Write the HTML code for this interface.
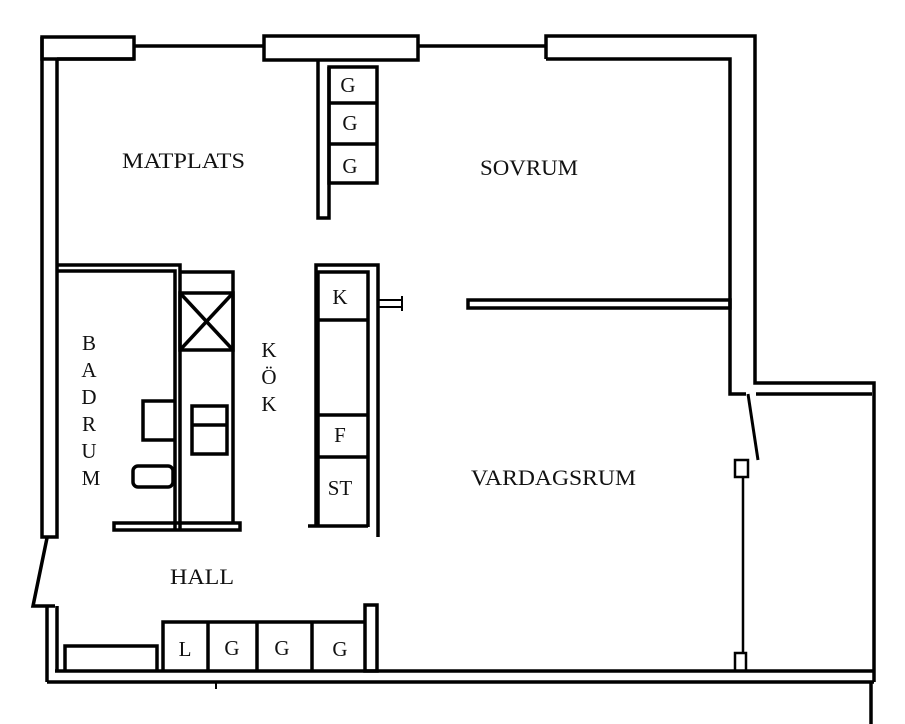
<!DOCTYPE html>
<html><head><meta charset="utf-8"><style>
html,body{margin:0;padding:0;background:#fff;}
svg{display:block}
text{font-family:"Liberation Serif",serif;fill:#111;}
</style></head><body>
<svg width="905" height="724" viewBox="0 0 905 724" xmlns="http://www.w3.org/2000/svg">
<g fill="none" stroke="#000" stroke-width="3.5" stroke-linejoin="miter">
<rect x="42" y="37" width="92" height="22" fill="#fff"/>
<line x1="134" y1="46" x2="264" y2="46"/>
<rect x="264" y="36" width="154" height="24" fill="#fff"/>
<line x1="418" y1="46" x2="546" y2="46"/>
<polyline points="546,59 546,36 755,36 755,383 874,383 874,682"/>
<polyline points="546,59 730,59 730,394 746,394"/>
<line x1="756" y1="394" x2="872" y2="394"/>
<polyline points="42,37 42,537 57,537 57,59"/>
<line x1="134" y1="59" x2="57" y2="59"/>
<polyline points="47,538 33,606 55,606"/>
<polyline points="57,606 57,671"/>
<line x1="47" y1="606" x2="47" y2="682"/>
<line x1="55" y1="671" x2="874" y2="671"/>
<line x1="47" y1="682" x2="874" y2="682"/>
<line x1="216" y1="682" x2="216" y2="689" stroke-width="2"/>
<line x1="871" y1="682" x2="871" y2="724"/>
<line x1="748" y1="394" x2="758" y2="460" stroke-width="3"/>
<rect x="735" y="460" width="13" height="17" stroke-width="2.5"/>
<line x1="743" y1="477" x2="743" y2="653" stroke-width="2.5"/>
<rect x="735" y="653" width="11" height="18" stroke-width="2.5"/>
<rect x="468" y="300" width="262" height="8"/>
<polyline points="318,59 318,218 329,218 329,67"/>
<rect x="329" y="67" width="48" height="116"/>
<line x1="329" y1="103" x2="377" y2="103"/>
<line x1="329" y1="144" x2="377" y2="144"/>
<polyline points="57,265 180,265 180,530"/>
<polyline points="57,271 175,271 175,530"/>
<rect x="114" y="523" width="126" height="7"/>
<polyline points="180,272 233,272 233,523"/>
<rect x="180" y="293" width="53" height="57"/>
<line x1="180" y1="293" x2="233" y2="350"/>
<line x1="233" y1="293" x2="180" y2="350"/>
<rect x="192" y="406" width="35" height="48"/>
<line x1="192" y1="425" x2="227" y2="425"/>
<polyline points="175,401 143,401 143,440 175,440"/>
<rect x="133" y="466" width="40" height="21" rx="5"/>
<polyline points="316,527 316,265 378,265 378,537"/>
<polyline points="318,527 318,272 368,272 368,527"/>
<line x1="308" y1="526" x2="368" y2="526"/>
<line x1="318" y1="320" x2="368" y2="320"/>
<line x1="318" y1="415" x2="368" y2="415"/>
<line x1="318" y1="457" x2="368" y2="457"/>
<g stroke-width="2"><line x1="378" y1="300" x2="402" y2="300"/><line x1="378" y1="307" x2="402" y2="307"/><line x1="402" y1="296" x2="402" y2="311"/></g>
<polyline points="163,671 163,622 365,622"/>
<line x1="208" y1="622" x2="208" y2="671"/>
<line x1="257" y1="622" x2="257" y2="671"/>
<line x1="312" y1="622" x2="312" y2="671"/>
<rect x="365" y="605" width="12" height="66"/>
<polyline points="65,671 65,646 157,646 157,671"/>
</g>
<g font-size="22">
<text x="122" y="168" textLength="123" lengthAdjust="spacingAndGlyphs">MATPLATS</text>
<text x="480" y="175" textLength="98" lengthAdjust="spacingAndGlyphs">SOVRUM</text>
<text x="471" y="485" textLength="165" lengthAdjust="spacingAndGlyphs">VARDAGSRUM</text>
<text x="170" y="584" textLength="64" lengthAdjust="spacingAndGlyphs">HALL</text>
</g>
<g font-size="21" text-anchor="middle">
<text x="348" y="92">G</text>
<text x="350" y="130">G</text>
<text x="350" y="173">G</text>
<text x="340" y="304">K</text>
<text x="340" y="442">F</text>
<text x="340" y="495">ST</text>
<text x="185" y="656">L</text>
<text x="232" y="655">G</text>
<text x="282" y="655">G</text>
<text x="340" y="656">G</text>
<text x="89" y="350">B</text>
<text x="89" y="377">A</text>
<text x="89" y="404">D</text>
<text x="89" y="431">R</text>
<text x="89" y="458">U</text>
<text x="91" y="485">M</text>
<text x="269" y="357">K</text>
<text x="269" y="384">Ö</text>
<text x="269" y="411">K</text>
</g>
</svg>
</body></html>
